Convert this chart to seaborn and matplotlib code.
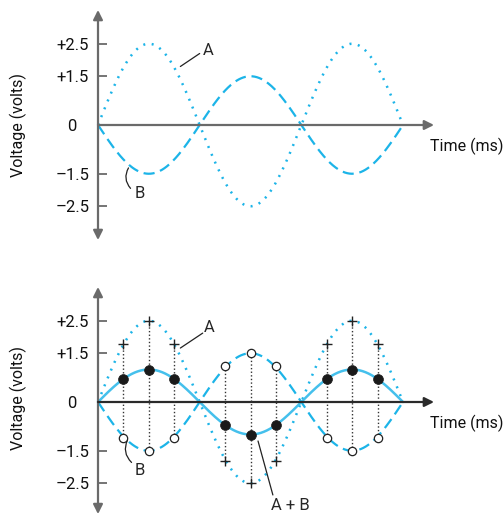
import numpy as np
import pandas as pd
import matplotlib
matplotlib.use("Agg")
import matplotlib.pyplot as plt
import seaborn as sns

# waveforms: amplitude in volts, time in half-periods
amp_a = 2.5
amp_b = -1.5
t_end = 3.0
ytick_vals = [2.5, 1.5, 0, -1.5, -2.5]
ytick_labels = ["+2.5", "+1.5", "0", "\u20131.5", "\u20132.5"]

# sampled points shown in the lower panel
t_samp = [0.25, 0.5, 0.75, 1.25, 1.5, 1.75, 2.25, 2.5, 2.75]
a_samp = [1.8, 2.5, 1.8, -1.8, -2.5, -1.8, 1.8, 2.5, 1.8]
b_samp = [-1.1, -1.5, -1.1, 1.1, 1.5, 1.1, -1.1, -1.5, -1.1]
sum_samp = [0.7, 1.0, 0.7, -0.7, -1.0, -0.7, 0.7, 1.0, 0.7]

t = np.linspace(0, t_end, 400)
waves = pd.DataFrame({"t": t,
                      "A": amp_a * np.sin(np.pi * t),
                      "B": amp_b * np.sin(np.pi * t)})
waves["A+B"] = waves["A"] + waves["B"]

sns.set_style("white")
plt.rcParams["font.family"] = ["Roboto", "DejaVu Sans"]
FS = 11.5

CYAN = "#1cb4e8"
AXC = "#6a6a6a"
W, H = 504, 514
xs, ys = 101.67, 32.5  # px per unit
xlim = (-0.1, 3.45)
ylim = (-3.65, 3.65)

fig = plt.figure(figsize=(W / 100, H / 100), dpi=100)


def make_ax(y0px):
    left = 98 + xlim[0] * xs
    width = (xlim[1] - xlim[0]) * xs
    top = y0px - ylim[1] * ys
    height = (ylim[1] - ylim[0]) * ys
    ax = fig.add_axes([left / W, (H - top - height) / H, width / W, height / H])
    ax.set_xlim(*xlim)
    ax.set_ylim(*ylim)
    ax.patch.set_alpha(0)
    for s in ax.spines.values():
        s.set_visible(False)
    ax.spines["left"].set_position(("data", 0))
    ax.set_xticks([])
    ax.set_yticks(ytick_vals)
    ax.set_yticklabels(ytick_labels)
    ax.tick_params(axis="y", direction="in", length=6.5, width=1.3, color=AXC,
                   pad=18.5, left=True, labelsize=FS + 0.5, labelcolor="#111111")
    for lab in ax.get_yticklabels():
        lab.set_ha("center")
    return ax


def axes_arrows(ax, ytop, ybot, xcol):
    ax.annotate("", xy=(0, ytop), xytext=(0, ybot), annotation_clip=False,
                arrowprops=dict(arrowstyle="<|-|>", color=AXC, lw=1.6,
                                mutation_scale=14, shrinkA=0, shrinkB=0))
    ax.annotate("", xy=(3.305, 0), xytext=(0, 0), annotation_clip=False,
                arrowprops=dict(arrowstyle="-|>", color=xcol, lw=1.6,
                                mutation_scale=14, shrinkA=0, shrinkB=0))
    ax.text(3.27, -0.67, "Time (ms)", ha="left", va="center", fontsize=FS,
            color="#111111", clip_on=False)


def draw_curves(ax, with_sum):
    sns.lineplot(data=waves, x="t", y="A", ax=ax, color=CYAN, lw=1.8,
                 linestyle=(0, (0.8, 2.6)), estimator=None, zorder=2)
    sns.lineplot(data=waves, x="t", y="B", ax=ax, color=CYAN, lw=1.6,
                 linestyle=(0, (5, 2.6)), estimator=None, zorder=2)
    if with_sum:
        sns.lineplot(data=waves, x="t", y="A+B", ax=ax, color="#45c0ec",
                     lw=1.8, estimator=None, zorder=3)
    ax.set_xlabel("")
    ax.set_ylabel("")


def leader(ax, p_from, p_to, rad=0.0):
    ax.annotate("", xy=p_to, xytext=p_from, annotation_clip=False,
                arrowprops=dict(arrowstyle="-", color="#222", lw=0.9,
                                shrinkA=0, shrinkB=0,
                                connectionstyle=f"arc3,rad={rad}"))


# ---- top panel
ax1 = make_ax(125)
draw_curves(ax1, False)
axes_arrows(ax1, 3.54, -3.54, AXC)
leader(ax1, (0.81, 1.8), (1.0, 2.2))
ax1.text(1.03, 2.28, "A", ha="left", va="center", fontsize=FS + 0.5)
leader(ax1, (0.3, -1.32), (0.32, -1.95), rad=0.35)
ax1.text(0.41, -2.1, "B", ha="center", va="center", fontsize=FS + 0.5)
fig.text(18 / W, 1 - 125 / H, "Voltage (volts)", rotation=90, ha="center",
         va="center", fontsize=FS, color="#111111")

# ---- bottom panel
ax2 = make_ax(402)
draw_curves(ax2, True)
axes_arrows(ax2, 3.54, -3.45, "#2a2a2a")
ax2.vlines(t_samp, b_samp, a_samp, colors="#333333", lw=1.0,
           linestyles=(0, (1, 1.6)), zorder=4)
sns.scatterplot(x=t_samp, y=a_samp, ax=ax2, marker="+", s=55, color="#222222",
                linewidth=1.0, zorder=5)
sns.scatterplot(x=t_samp, y=b_samp, ax=ax2, marker="o", s=36, color="white",
                edgecolor="#222222", linewidth=0.9, zorder=5)
sns.scatterplot(x=t_samp, y=sum_samp, ax=ax2, marker="o", s=50, color="#1a1a1a",
                edgecolor="#1a1a1a", linewidth=0.5, zorder=6)
ax2.set_xlabel("")
ax2.set_ylabel("")
leader(ax2, (0.81, 1.66), (1.03, 2.12))
ax2.text(1.04, 2.3, "A", ha="left", va="center", fontsize=FS + 0.5)
leader(ax2, (0.29, -1.17), (0.33, -1.86), rad=0.35)
ax2.text(0.41, -2.1, "B", ha="center", va="center", fontsize=FS + 0.5)
leader(ax2, (1.574, -1.2), (1.72, -2.86))
ax2.text(1.89, -3.2, "A + B", ha="center", va="center", fontsize=FS + 0.5)
fig.text(18 / W, 1 - 398 / H, "Voltage (volts)", rotation=90, ha="center",
         va="center", fontsize=FS, color="#111111")

fig.savefig("out.png", dpi=100)
